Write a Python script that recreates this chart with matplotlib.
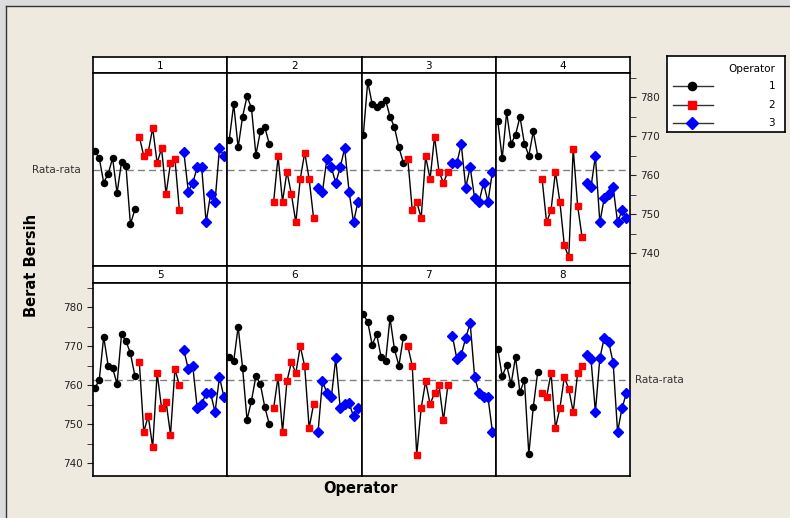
import matplotlib.pyplot as plt
from matplotlib.lines import Line2D
from matplotlib.patches import Rectangle
from matplotlib.ticker import MultipleLocator

# data: 8 parts, 10 readings per operator
parts = ['1', '2', '3', '4', '5', '6', '7', '8']
op1 = [
    [766.1, 764.4, 758.1, 760.3, 764.4, 755.4, 763.3, 762.3, 747.4, 751.2],
    [769.1, 778.2, 767.1, 775.0, 780.2, 777.2, 765.2, 771.2, 772.3, 768.1],
    [770.2, 784.0, 778.2, 777.4, 778.2, 779.3, 775.0, 772.3, 767.1, 763.2],
    [773.9, 764.3, 776.1, 768.1, 770.3, 775.0, 768.1, 765.0, 771.2, 765.0],
    [759.2, 761.3, 772.4, 765.0, 764.4, 760.3, 773.0, 771.3, 768.2, 762.4],
    [767.1, 766.1, 775.0, 764.4, 751.1, 756.0, 762.3, 760.3, 754.4, 750.1],
    [778.2, 776.2, 770.3, 773.1, 767.2, 766.1, 777.2, 769.2, 765.0, 772.3],
    [769.2, 762.3, 765.1, 760.3, 767.2, 758.2, 761.3, 742.3, 754.4, 763.3],
]
op2 = [
    [769.9, 764.9, 765.9, 772.1, 763.1, 766.9, 755.1, 763.1, 764.1, 751.0],
    [753.2, 764.8, 753.2, 760.9, 755.1, 747.9, 759.0, 765.8, 759.0, 749.0],
    [764.1, 751.0, 753.2, 749.0, 764.8, 759.0, 769.9, 760.9, 758.0, 760.9],
    [758.9, 747.9, 751.0, 760.9, 753.1, 742.0, 738.9, 766.8, 752.1, 744.1],
    [765.9, 748.0, 752.1, 744.1, 763.1, 754.1, 755.8, 747.3, 764.1, 760.0],
    [754.1, 762.1, 748.0, 761.0, 765.9, 763.1, 770.0, 764.8, 749.0, 755.1],
    [770.0, 764.9, 742.1, 754.1, 761.0, 755.1, 758.0, 760.0, 751.0, 760.0],
    [758.0, 756.9, 763.1, 749.0, 754.1, 762.1, 759.0, 753.1, 763.1, 764.9],
]
op3 = [
    [765.9, 755.8, 758.0, 762.0, 762.0, 747.9, 755.1, 753.2, 766.9, 764.9],
    [756.8, 755.8, 764.1, 762.0, 758.0, 762.0, 766.9, 755.8, 747.9, 753.2],
    [763.1, 763.1, 767.9, 756.8, 762.0, 754.1, 753.2, 758.0, 753.2, 760.9],
    [758.0, 756.9, 764.9, 747.9, 754.1, 755.1, 756.9, 747.9, 751.0, 748.9],
    [769.0, 764.1, 764.9, 754.1, 755.1, 758.0, 758.0, 753.1, 762.1, 756.9],
    [747.9, 761.1, 758.0, 756.9, 766.9, 754.1, 755.1, 755.4, 752.0, 754.1],
    [772.7, 766.8, 767.8, 772.1, 775.9, 762.1, 758.0, 756.9, 756.9, 748.0],
    [767.8, 766.8, 753.1, 766.9, 772.2, 771.0, 765.8, 748.0, 754.1, 758.0],
]
rata_rata = 761.2
yticks = [740, 750, 760, 770, 780]

W, H = 790, 518
bg = '#eeeae0'

fig = plt.figure(figsize=(W / 100, H / 100), dpi=100, facecolor=bg)
plt.rcParams['font.family'] = 'DejaVu Sans'


def box(x0, y0, x1, y1):
    # pixel box (top-left origin) -> figure fraction
    return [x0 / W, 1 - y1 / H, (x1 - x0) / W, (y1 - y0) / H]


# cropped window edge at top / left
fig.patches.append(Rectangle((0, 1 - 6 / H), 1, 6 / H, transform=fig.transFigure,
                             facecolor='#dcdcdc', edgecolor='none'))
fig.patches.append(Rectangle((0, 0), 6 / W, 1, transform=fig.transFigure,
                             facecolor='#dcdcdc', edgecolor='none'))
fig.lines.append(Line2D([6 / W, 6 / W], [0, 1 - 6 / H], transform=fig.transFigure,
                        color='#333333', lw=1))
fig.lines.append(Line2D([6 / W, 1], [1 - 6 / H, 1 - 6 / H], transform=fig.transFigure,
                        color='#333333', lw=1))

col_x = [93, 227.5, 361.5, 496, 630]
rows = [(57, 73, 266), (266, 283, 476)]

styles = [
    dict(marker='o', color='black', markersize=4.4),
    dict(marker='s', color='red', markersize=4.4),
    dict(marker='D', color='blue', markersize=4.8),
]

for i, part in enumerate(parts):
    r, c = divmod(i, 4)
    top, ptop, pbot = rows[r]
    x0, x1 = col_x[c], col_x[c + 1]

    strip = fig.add_axes(box(x0, top, x1, ptop))
    strip.set_facecolor('white')
    strip.set_xticks([])
    strip.set_yticks([])
    strip.text(0.5, 0.45, part, ha='center', va='center', fontsize=7.5,
               transform=strip.transAxes)
    for s in strip.spines.values():
        s.set_linewidth(1.2)

    ax = fig.add_axes(box(x0, ptop, x1, pbot))
    ax.set_facecolor('white')
    ax.axhline(rata_rata, color='#808080', ls=(0, (5, 3)), lw=1, zorder=1)
    for k, vals in enumerate([op1[i], op2[i], op3[i]]):
        xs = list(range(k * 10, k * 10 + 10))
        st = styles[k]
        ax.plot(xs, vals, color='black', lw=1, zorder=2)
        ax.plot(xs, vals, ls='none', marker=st['marker'], markersize=st['markersize'],
                markerfacecolor=st['color'], markeredgecolor=st['color'], zorder=3)
    ax.set_xlim(-0.4, 29.8)
    ax.set_ylim(736.7, 786.2)
    ax.set_xticks([])
    ax.set_yticks(yticks)
    ax.yaxis.set_minor_locator(MultipleLocator(5))
    ax.tick_params(axis='y', which='both', direction='out', labelsize=7.5,
                   colors='#222222')
    ax.tick_params(axis='y', which='major', length=4)
    ax.tick_params(axis='y', which='minor', length=4)
    for s in ax.spines.values():
        s.set_linewidth(1.2)

    if i == 4:
        ax.tick_params(axis='y', which='both', left=True, labelleft=True)
    elif i == 3:
        ax.yaxis.tick_right()
        ax.tick_params(axis='y', which='both', right=True, labelright=True)
    else:
        ax.tick_params(axis='y', which='both', left=False, labelleft=False,
                       right=False, labelright=False)

    if i == 0:
        ax.text(-0.09, rata_rata, 'Rata-rata', ha='right', va='center', fontsize=7.5,
                color='#333333', transform=ax.get_yaxis_transform())
    if i == 7:
        ax.text(1.04, rata_rata, 'Rata-rata', ha='left', va='center', fontsize=7.5,
                color='#333333', transform=ax.get_yaxis_transform())

fig.text(32 / W, 1 - 265 / H, 'Berat Bersih', rotation=90, ha='center', va='center',
         fontsize=10.5, fontweight='bold')
fig.text(360 / W, 1 - 488 / H, 'Operator', ha='center', va='center',
         fontsize=10.5, fontweight='bold')

# legend box
lg = fig.add_axes(box(667, 56, 785, 132))
lg.set_facecolor('white')
lg.set_xlim(667, 785)
lg.set_ylim(132, 56)
lg.set_xticks([])
lg.set_yticks([])
for s in lg.spines.values():
    s.set_linewidth(1.2)
lg.text(775, 69, 'Operator', ha='right', va='center', fontsize=7.5)
for k, yy in enumerate([86, 104.5, 123]):
    st = styles[k]
    lg.plot([673, 713], [yy, yy], color='#333333', lw=1)
    lg.plot([692], [yy], ls='none', marker=st['marker'], markersize=st['markersize'] + 1.5,
            markerfacecolor=st['color'], markeredgecolor=st['color'])
    lg.text(775, yy, str(k + 1), ha='right', va='center', fontsize=7.5)

fig.savefig('out.png', dpi=100, facecolor=bg)
